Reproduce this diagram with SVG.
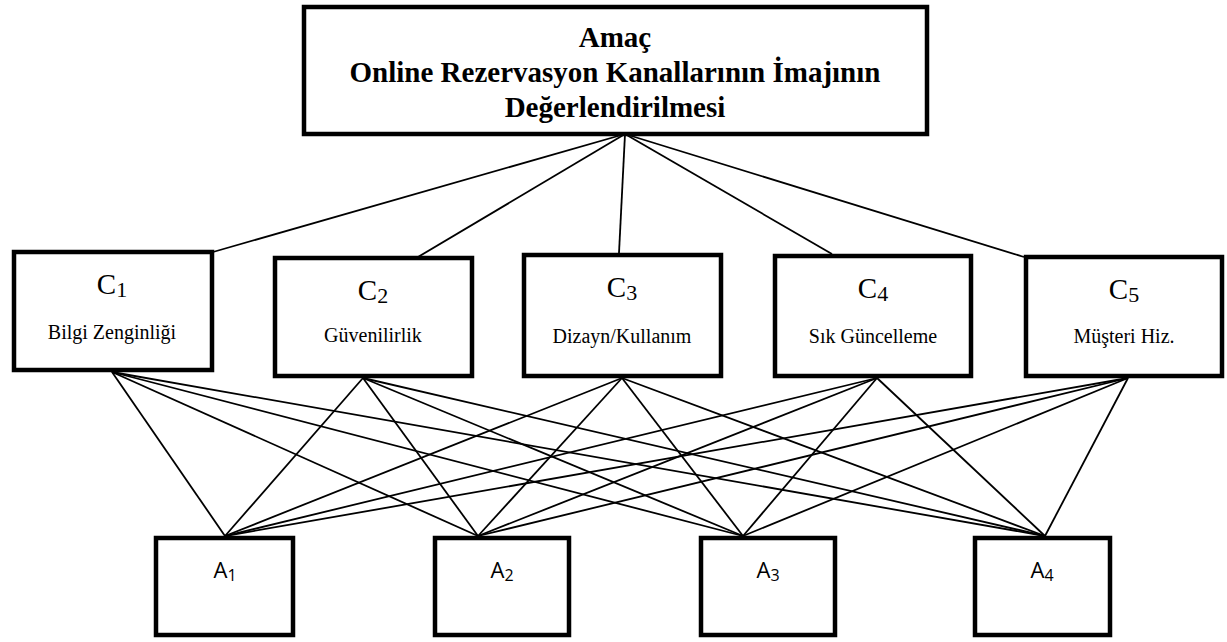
<svg xmlns="http://www.w3.org/2000/svg" width="1227" height="642" viewBox="0 0 1227 642">
<style>
.box{fill:#fff;stroke:#000;stroke-width:4.5}
.ln{stroke:#000;stroke-width:1.8;fill:none}
.goal{font-family:"Liberation Serif",serif;font-weight:bold;font-size:29px;text-anchor:middle}
.cl{font-family:"Liberation Serif",serif;font-size:29px;text-anchor:middle}
.cs{font-size:22px}
.lab{font-family:"Liberation Serif",serif;font-size:20px;text-anchor:middle}
.al{font-family:"Open Sans","Liberation Sans",sans-serif;font-size:22px;text-anchor:middle}
.as{font-size:16px}
</style>
<rect width="1227" height="642" fill="#fff"/>
<g id="connectors">
<line class="ln" x1="625" y1="134" x2="213" y2="252"/>
<line class="ln" x1="625" y1="134" x2="418" y2="257"/>
<line class="ln" x1="625" y1="134" x2="619" y2="253"/>
<line class="ln" x1="625" y1="134" x2="832" y2="254"/>
<line class="ln" x1="625" y1="134" x2="1024" y2="257"/>
<line class="ln" x1="112" y1="372" x2="225" y2="536"/>
<line class="ln" x1="112" y1="372" x2="478" y2="536"/>
<line class="ln" x1="112" y1="372" x2="743" y2="536"/>
<line class="ln" x1="112" y1="372" x2="1045" y2="536"/>
<line class="ln" x1="363" y1="378" x2="225" y2="536"/>
<line class="ln" x1="363" y1="378" x2="478" y2="536"/>
<line class="ln" x1="363" y1="378" x2="743" y2="536"/>
<line class="ln" x1="363" y1="378" x2="1045" y2="536"/>
<line class="ln" x1="622" y1="378" x2="225" y2="536"/>
<line class="ln" x1="622" y1="378" x2="478" y2="536"/>
<line class="ln" x1="622" y1="378" x2="743" y2="536"/>
<line class="ln" x1="622" y1="378" x2="1045" y2="536"/>
<line class="ln" x1="877" y1="378" x2="225" y2="536"/>
<line class="ln" x1="877" y1="378" x2="478" y2="536"/>
<line class="ln" x1="877" y1="378" x2="743" y2="536"/>
<line class="ln" x1="877" y1="378" x2="1045" y2="536"/>
<line class="ln" x1="1128" y1="378" x2="225" y2="536"/>
<line class="ln" x1="1128" y1="378" x2="478" y2="536"/>
<line class="ln" x1="1128" y1="378" x2="743" y2="536"/>
<line class="ln" x1="1128" y1="378" x2="1045" y2="536"/>
</g>
<g id="goal">
<rect class="box" x="304" y="7" width="623" height="127"/>
<text class="goal" x="615" y="47">Amaç</text>
<text class="goal" x="615" y="82">Online Rezervasyon Kanallarının İmajının</text>
<text class="goal" x="615" y="117">Değerlendirilmesi</text>
</g>
<g id="c1">
<rect class="box" x="14" y="252" width="198" height="118"/>
<text class="cl" x="112" y="294">C<tspan class="cs" dy="3">1</tspan></text>
<text class="lab" x="112" y="339">Bilgi Zenginliği</text>
</g>
<g id="c2">
<rect class="box" x="275" y="258" width="197" height="118"/>
<text class="cl" x="373" y="300">C<tspan class="cs" dy="3">2</tspan></text>
<text class="lab" x="373" y="342">Güvenilirlik</text>
</g>
<g id="c3">
<rect class="box" x="524" y="255" width="197" height="121"/>
<text class="cl" x="622" y="297">C<tspan class="cs" dy="3">3</tspan></text>
<text class="lab" x="622" y="343">Dizayn/Kullanım</text>
</g>
<g id="c4">
<rect class="box" x="775" y="256" width="196" height="120"/>
<text class="cl" x="873" y="298">C<tspan class="cs" dy="3">4</tspan></text>
<text class="lab" x="873" y="343">Sık Güncelleme</text>
</g>
<g id="c5">
<rect class="box" x="1026" y="257" width="196" height="119"/>
<text class="cl" x="1124" y="299">C<tspan class="cs" dy="3">5</tspan></text>
<text class="lab" x="1124" y="343">Müşteri Hiz.</text>
</g>
<g id="a1">
<rect class="box" x="156" y="538" width="137" height="97"/>
<text class="al" x="225" y="578">A<tspan class="as" dy="3">1</tspan></text>
</g>
<g id="a2">
<rect class="box" x="435" y="538" width="134" height="97"/>
<text class="al" x="502" y="578">A<tspan class="as" dy="3">2</tspan></text>
</g>
<g id="a3">
<rect class="box" x="701" y="538" width="134" height="97"/>
<text class="al" x="768" y="578">A<tspan class="as" dy="3">3</tspan></text>
</g>
<g id="a4">
<rect class="box" x="975" y="538" width="135" height="97"/>
<text class="al" x="1042" y="578">A<tspan class="as" dy="3">4</tspan></text>
</g>
</svg>
